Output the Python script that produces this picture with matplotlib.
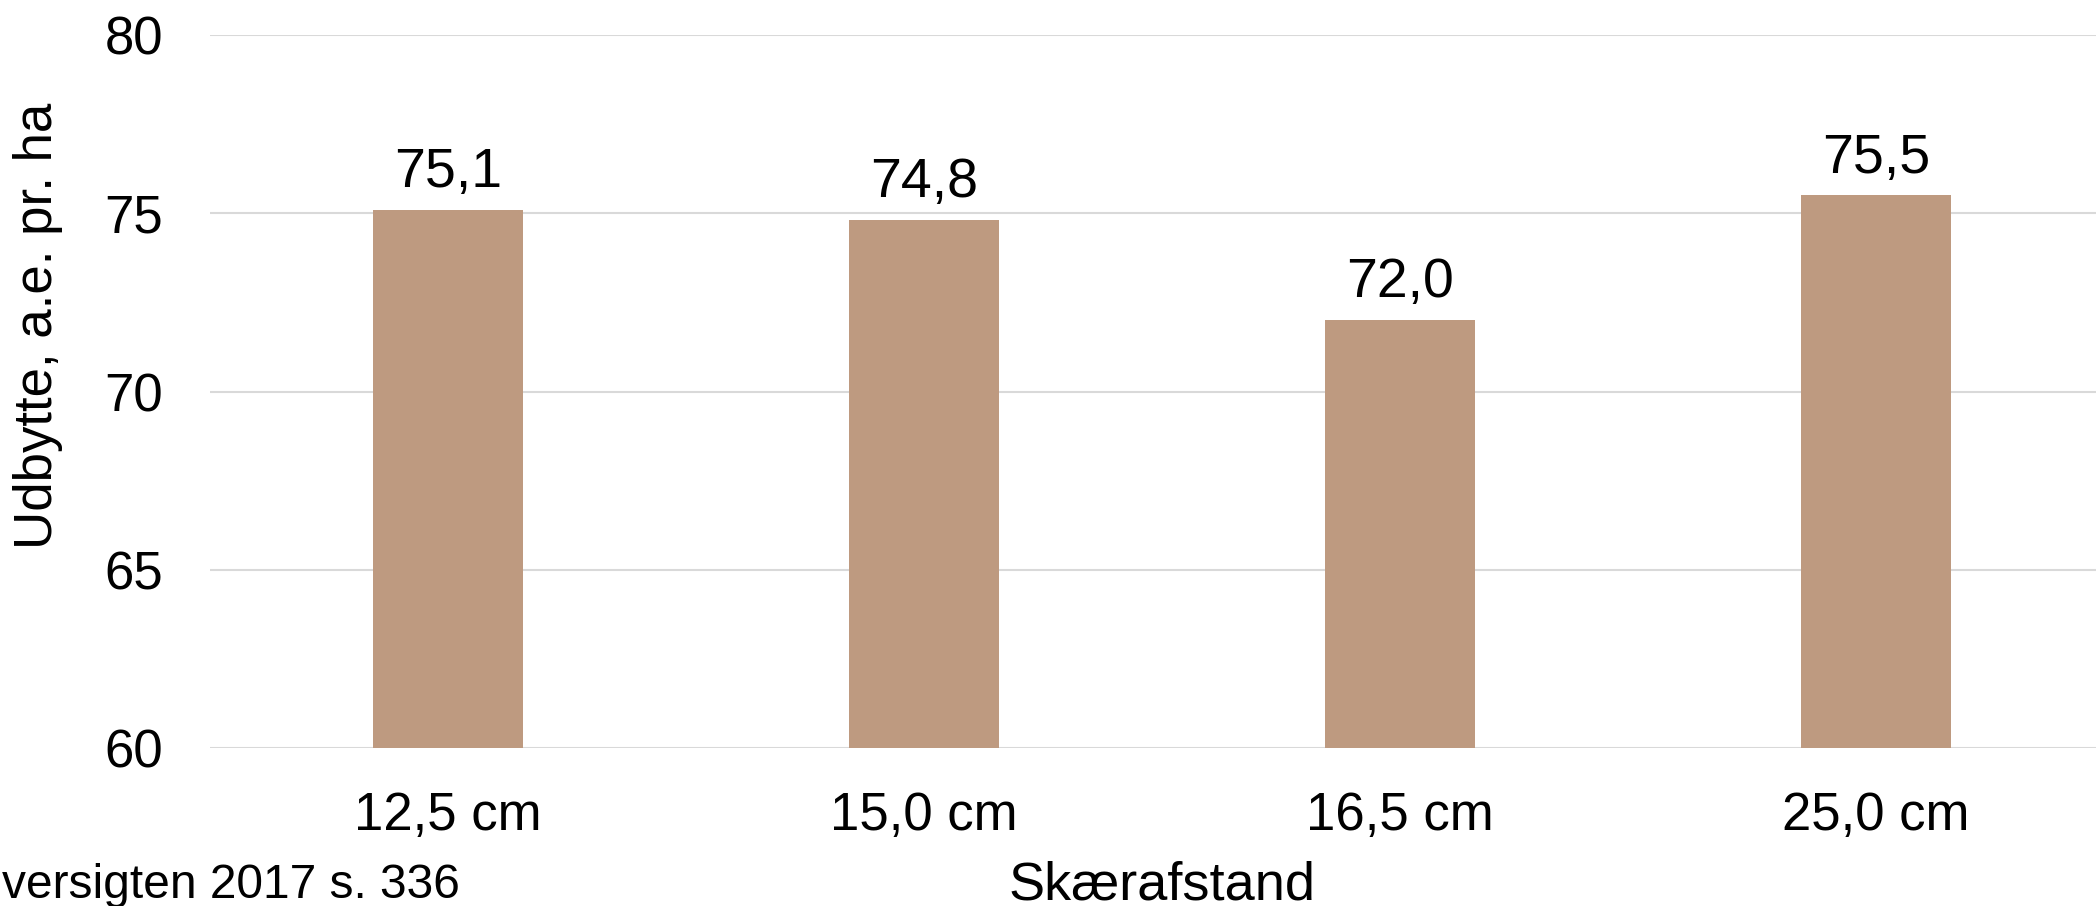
import matplotlib.pyplot as plt

# Udbytte ved forskellig skærafstand
categories = ['12,5 cm', '15,0 cm', '16,5 cm', '25,0 cm']
udbytte = [75.1, 74.8, 72.0, 75.5]
yticks = [60, 65, 70, 75, 80]

plt.rcParams['font.family'] = ['Liberation Sans', 'DejaVu Sans']

fig = plt.figure(figsize=(20.96, 9.06), dpi=100)
ax = fig.add_axes([210 / 2096, 1 - 748 / 906, 1904 / 2096, 713 / 906])

x = range(len(categories))
bars = ax.bar(x, udbytte, width=0.315, color='#BE9A80', zorder=2)

# værdier over søjlerne
for rect, v in zip(bars, udbytte):
    ax.annotate(f'{v:.1f}'.replace('.', ','),
                (rect.get_x() + rect.get_width() / 2, v),
                xytext=(0, 16.5), textcoords='offset points',
                ha='center', va='baseline', fontsize=40)

ax.set_xlim(-0.5, 3.5)
ax.set_ylim(60, 80)
ax.set_yticks(yticks)
ax.set_xticks(list(x))
ax.set_xticklabels(categories)
ax.tick_params(axis='both', length=0, labelsize=38)
ax.tick_params(axis='y', pad=34)
ax.tick_params(axis='x', pad=31)
ax.grid(axis='y', color='#D9D9D9', linewidth=1.5, zorder=0)
for s in ax.spines.values():
    s.set_visible(False)

fig.text(38 / 2096, 1 - 326 / 906, 'Udbytte, a.e. pr. ha', rotation=90,
         ha='center', va='center', fontsize=38)
fig.text(1162 / 2096, 1 - 900 / 906, 'Skærafstand',
         ha='center', va='baseline', fontsize=39)
fig.text(2 / 2096, 1 - 898 / 906, 'versigten 2017 s. 336',
         ha='left', va='baseline', fontsize=34.5)

fig.savefig('out.png', dpi=100)
